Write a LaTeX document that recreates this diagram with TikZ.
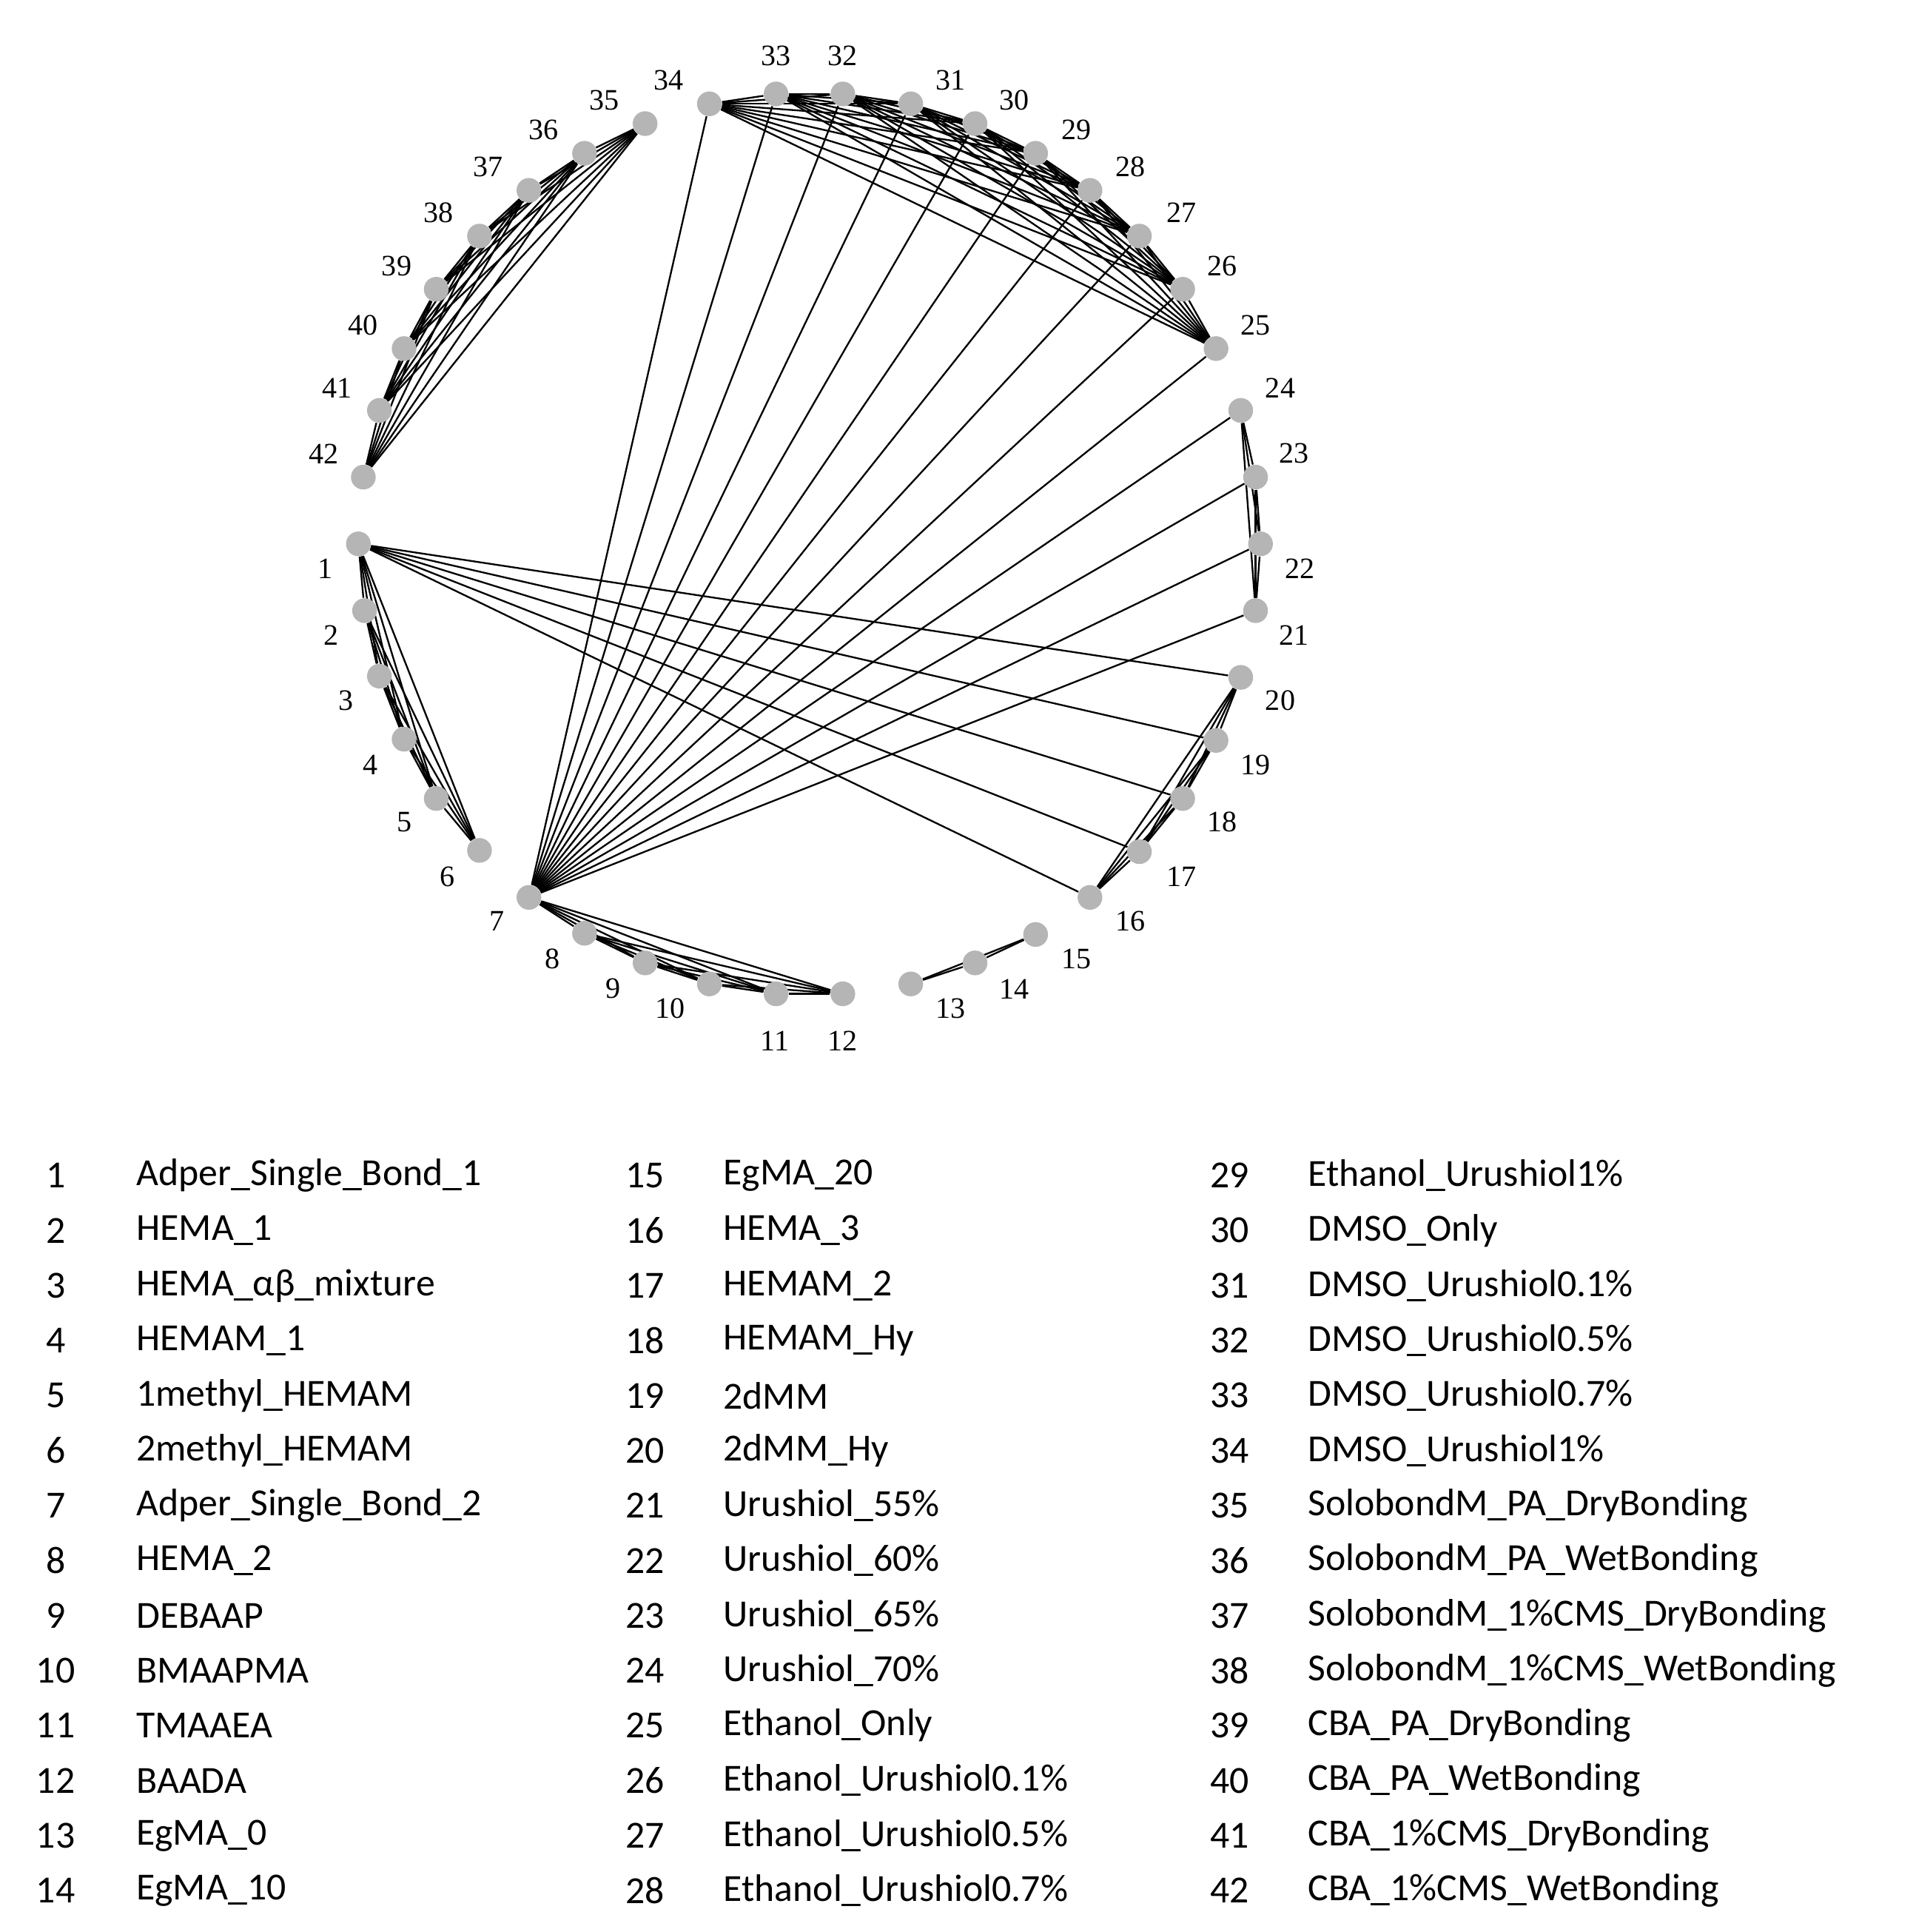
\documentclass[tikz,border=0pt]{standalone}
\usepackage{fontspec}
\setmainfont{Liberation Serif}
\newfontfamily\legfont{Carlito}
\usetikzlibrary{backgrounds}
\tikzset{dot/.style={circle,fill=gray!95!black!55,draw=none,minimum size=10pt,inner sep=0pt},
 nlab/.style={font=\fontsize{12}{12}\selectfont},
 edge/.style={line width=0.7pt,black},
 leg/.style={font=\legfont\fontsize{15.5}{16}\selectfont,anchor=west,inner sep=0pt},
 legn/.style={font=\legfont\fontsize{15.5}{16}\selectfont,inner sep=0pt}}
\begin{document}
\begin{tikzpicture}[x=0.5pt,y=-0.5pt]
\useasboundingbox (0,0) rectangle (1550,1563);
\foreach \i/\x/\y/\lx/\ly in {1/290/440/263/460,2/295/494/268/514,3/307/547/280/567,4/327/598/300/619,5/353/646/327/665,6/388/688/362/709,7/428/726/402/745,8/473/755/447/776,9/522/779/496/800,10/574/796/542/816,11/628/804/627/842,12/682/804/682/842,13/737/796/769/816,14/789/779/821/800,15/838/756/871/776,16/882/726/915/745,17/922/689/956/709,18/957/646/989/665,19/984/599/1016/619,20/1004/548/1036/567,21/1016/494/1047/514,22/1020/440/1052/460,23/1016/386/1047/367,24/1004/332/1036/314,25/984/282/1016/263,26/957/234/989/215,27/922/191/956/172,28/882/154/915/135,29/838/124/871/105,30/789/100/821/81,31/737/84/769/65,32/682/76/682/45,33/628/76/628/45,34/574/84/541/65,35/522/100/489/81,36/473/124/440/105,37/428/154/395/135,38/388/191/355/172,39/353/234/321/215,40/327/282/294/263,41/307/332/273/314,42/294/386/262/367}{
  \node[dot] (n\i) at (\x,\y) {};
  \node[nlab] (l\i) at (\lx,\ly) {\i};
}
\begin{scope}[on background layer]
\foreach \a/\b in {1/6,7/12,13/15,16/20,21/24,25/34,35/42}{
  \pgfmathtruncatemacro\bm{\b-1}
  \foreach \i in {\a,...,\bm}{
    \pgfmathtruncatemacro\ip{\i+1}
    \foreach \j in {\ip,...,\b}{\draw[edge] (n\i) -- (n\j);}
  }
}
\foreach \j in {16,...,20}{\draw[edge] (n1) -- (n\j);}
\foreach \j in {21,...,34}{\draw[edge] (n7) -- (n\j);}
\end{scope}
\foreach \c/\nx/\tx/\lst in {
 a/45/110/{1/Adper\_Single\_Bond\_1,2/HEMA\_1,3/HEMA\_αβ\_mixture,4/HEMAM\_1,5/1methyl\_HEMAM,6/2methyl\_HEMAM,7/Adper\_Single\_Bond\_2,8/HEMA\_2,9/DEBAAP,10/BMAAPMA,11/TMAAEA,12/BAADA,13/EgMA\_0,14/EgMA\_10},
 b/522/585/{15/EgMA\_20,16/HEMA\_3,17/HEMAM\_2,18/HEMAM\_Hy,19/2dMM,20/2dMM\_Hy,21/Urushiol\_55\%,22/Urushiol\_60\%,23/Urushiol\_65\%,24/Urushiol\_70\%,25/Ethanol\_Only,26/Ethanol\_Urushiol0.1\%,27/Ethanol\_Urushiol0.5\%,28/Ethanol\_Urushiol0.7\%},
 c/995/1058/{29/Ethanol\_Urushiol1\%,30/DMSO\_Only,31/DMSO\_Urushiol0.1\%,32/DMSO\_Urushiol0.5\%,33/DMSO\_Urushiol0.7\%,34/DMSO\_Urushiol1\%,35/SolobondM\_PA\_DryBonding,36/SolobondM\_PA\_WetBonding,37/SolobondM\_1\%CMS\_DryBonding,38/SolobondM\_1\%CMS\_WetBonding,39/CBA\_PA\_DryBonding,40/CBA\_PA\_WetBonding,41/CBA\_1\%CMS\_DryBonding,42/CBA\_1\%CMS\_WetBonding}}{
  \foreach \k/\t [count=\r from 0] in \lst{
    \node[legn] (ln\k) at (\nx,951+44.5*\r) {\k};
    \node[leg] (lt\k) at (\tx,951+44.5*\r) {\t};
  }
}
\end{tikzpicture}
\end{document}
